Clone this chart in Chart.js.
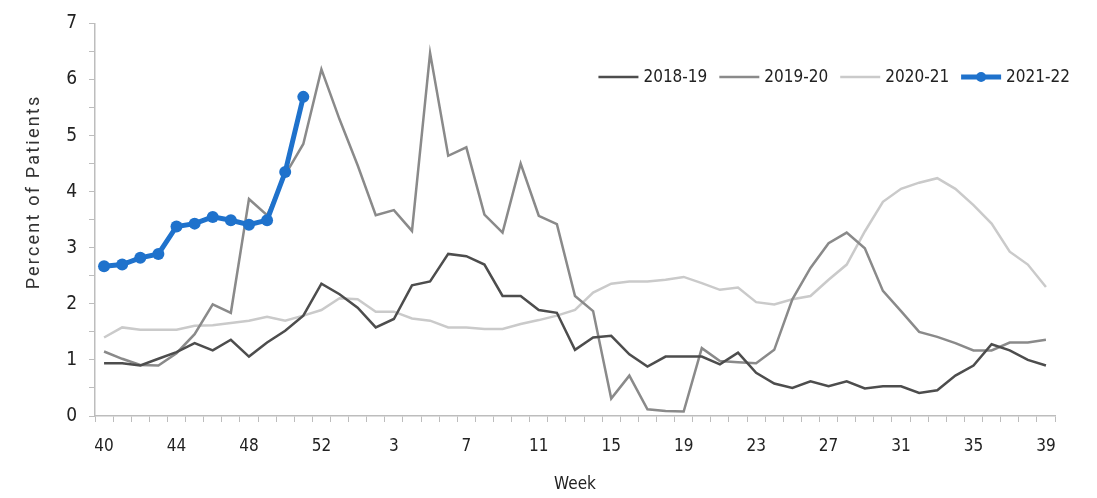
<!DOCTYPE html>
<html lang="en">

<head>
  <meta charset="UTF-8">
  <title>Percent of Patients by Week</title>
  <script src="https://cdn.jsdelivr.net/npm/chart.js"></script>
  <style>
    body {
      margin: 0;
      background: #fff;
    }

    #chartBox {
      width: 1097px;
      height: 498px;
    }
  </style>
</head>

<body>
  <div id="chartBox">
    <canvas id="fluChart"></canvas>
  </div>

  <script>
    // Week labels: 40..53 then 1..39
    const weeks = ['40', '41', '42', '43', '44', '45', '46', '47', '48', '49', '50', '51', '52', '53',
      '1', '2', '3', '4', '5', '6', '7', '8', '9', '10', '11', '12', '13', '14', '15', '16', '17', '18', '19',
      '20', '21', '22', '23', '24', '25', '26', '27', '28', '29', '30', '31', '32', '33', '34', '35', '36',
      '37', '38', '39'];

    const season1819 = [0.94, 0.94, 0.90, 1.02, 1.14, 1.30, 1.17, 1.36, 1.06, 1.31, 1.52, 1.79, 2.36,
      2.17, 1.93, 1.58, 1.73, 2.33, 2.40, 2.89, 2.85, 2.70, 2.14, 2.14, 1.89, 1.84,
      1.18, 1.40, 1.43, 1.10, 0.88, 1.06, 1.06, 1.06, 0.92, 1.13, 0.77, 0.58, 0.50,
      0.62, 0.53, 0.62, 0.49, 0.53, 0.53, 0.41, 0.46, 0.72, 0.90, 1.28, 1.17, 1.00, 0.90];

    const season1920 = [1.15, 1.02, 0.91, 0.90, 1.12, 1.46, 1.99, 1.84, 3.87, 3.58, 4.30, 4.85, 6.18,
      5.29, 4.47, 3.58, 3.67, 3.30, 6.47, 4.64, 4.79, 3.59, 3.27, 4.50, 3.57, 3.42,
      2.14, 1.87, 0.31, 0.72, 0.12, 0.09, 0.08, 1.21, 0.98, 0.96, 0.94, 1.18, 2.08,
      2.64, 3.08, 3.27, 2.99, 2.23, 1.87, 1.50, 1.41, 1.30, 1.17, 1.17, 1.31, 1.31, 1.36];

    const season2021 = [1.40, 1.58, 1.54, 1.54, 1.54, 1.61, 1.62, 1.66, 1.70, 1.77, 1.70, 1.79, 1.89,
      2.10, 2.08, 1.86, 1.86, 1.74, 1.70, 1.58, 1.58, 1.55, 1.55, 1.64, 1.71, 1.79,
      1.89, 2.20, 2.36, 2.40, 2.40, 2.43, 2.48, 2.37, 2.25, 2.29, 2.03, 1.99, 2.08,
      2.14, 2.43, 2.70, 3.29, 3.82, 4.05, 4.16, 4.24, 4.05, 3.76, 3.43, 2.93, 2.70, 2.30];

    const season2122 = [2.67, 2.70, 2.82, 2.89, 3.38, 3.43, 3.55, 3.49, 3.41, 3.49, 4.35, 5.69];

    const narrowFont = "'Liberation Sans Narrow', 'DejaVu Sans Condensed', 'Roboto', sans-serif";
    const textColor = '#222';
    const axisColor = '#bdbdbd';

    // Legend drawn by hand: one row inside the plot, top right
    const insideLegend = {
      id: 'insideLegend',
      afterDraw(chart) {
        const c = chart.ctx;
        const rowY = 77, rightEdge = 1070, lineLen = 40, gap = 5, itemGap = 12;
        c.save();
        c.font = "17px " + narrowFont;
        c.textBaseline = 'middle';
        const items = chart.data.datasets;
        let total = 0;
        items.forEach((ds, i) => {
          total += lineLen + gap + c.measureText(ds.label).width + (i < items.length - 1 ? itemGap : 0);
        });
        let x = rightEdge - total;
        items.forEach((ds) => {
          c.strokeStyle = ds.borderColor;
          c.lineWidth = ds.borderWidth;
          c.beginPath();
          c.moveTo(x, rowY);
          c.lineTo(x + lineLen, rowY);
          c.stroke();
          if (ds.pointRadius > 0) {
            c.fillStyle = ds.borderColor;
            c.beginPath();
            c.arc(x + lineLen / 2, rowY, 5, 0, Math.PI * 2);
            c.fill();
          }
          x += lineLen + gap;
          c.fillStyle = textColor;
          c.fillText(ds.label, x, rowY + 1);
          x += c.measureText(ds.label).width + itemGap;
        });
        c.restore();
      }
    };

    // y title drawn by hand so it can have letter spacing and sit a bit high
    const yTitle = {
      id: 'yTitle',
      afterDraw(chart) {
        const c = chart.ctx;
        c.save();
        c.translate(34, 192);
        c.rotate(-Math.PI / 2);
        c.font = "18px Roboto, sans-serif";
        c.letterSpacing = '2.2px';
        c.fillStyle = '#333';
        c.textAlign = 'center';
        c.textBaseline = 'middle';
        c.fillText('Percent of Patients', 0, 0);
        c.restore();
      }
    };

    const ctx = document.getElementById('fluChart').getContext('2d');
    const chart = new Chart(ctx, {
      type: 'line',
      data: {
        labels: weeks,
        datasets: [
          {
            label: '2018-19',
            data: season1819,
            borderColor: '#4d4d4d',
            borderWidth: 2.5,
            pointRadius: 0,
            order: 1
          },
          {
            label: '2019-20',
            data: season1920,
            borderColor: '#8a8a8a',
            borderWidth: 2.5,
            pointRadius: 0,
            order: 2
          },
          {
            label: '2020-21',
            data: season2021,
            borderColor: '#cacaca',
            borderWidth: 2.5,
            pointRadius: 0,
            order: 3
          },
          {
            label: '2021-22',
            data: season2122,
            borderColor: '#1f72cc',
            backgroundColor: '#1f72cc',
            borderWidth: 5,
            pointRadius: 6,
            pointBorderWidth: 0,
            pointBackgroundColor: '#1f72cc',
            order: 0
          }
        ]
      },
      options: {
        responsive: true,
        maintainAspectRatio: false,
        animation: false,
        layout: {
          padding: { left: 0, right: 42, top: 19, bottom: 0 }
        },
        elements: {
          line: { tension: 0 }
        },
        scales: {
          x: {
            offset: true,
            grid: {
              offset: true,
              drawOnChartArea: false,
              tickLength: 6,
              color: axisColor
            },
            border: { color: axisColor, width: 1.5 },
            ticks: {
              autoSkip: false,
              maxRotation: 0,
              padding: 14,
              color: textColor,
              font: { family: narrowFont, size: 17 },
              callback: function (value, index) {
                return index % 4 === 0 ? this.getLabelForValue(value) : '';
              }
            },
            title: {
              display: true,
              text: 'Week',
              color: textColor,
              font: { family: narrowFont, size: 17 },
              padding: { top: 0, bottom: 3 }
            },
            afterFit: (scale) => { scale.height = 82; }
          },
          y: {
            min: 0,
            max: 7,
            grid: {
              drawOnChartArea: false,
              tickLength: 6,
              color: axisColor
            },
            border: { color: axisColor, width: 1.5 },
            ticks: {
              stepSize: 0.5,
              padding: 12,
              color: textColor,
              font: { family: narrowFont, size: 19 },
              callback: (v) => Number.isInteger(v) ? v : ''
            },
            afterFit: (scale) => { scale.width = 95; }
          }
        },
        plugins: {
          legend: { display: false },
          tooltip: { enabled: false }
        }
      },
      plugins: [insideLegend, yTitle]
    });
  </script>
</body>

</html>
